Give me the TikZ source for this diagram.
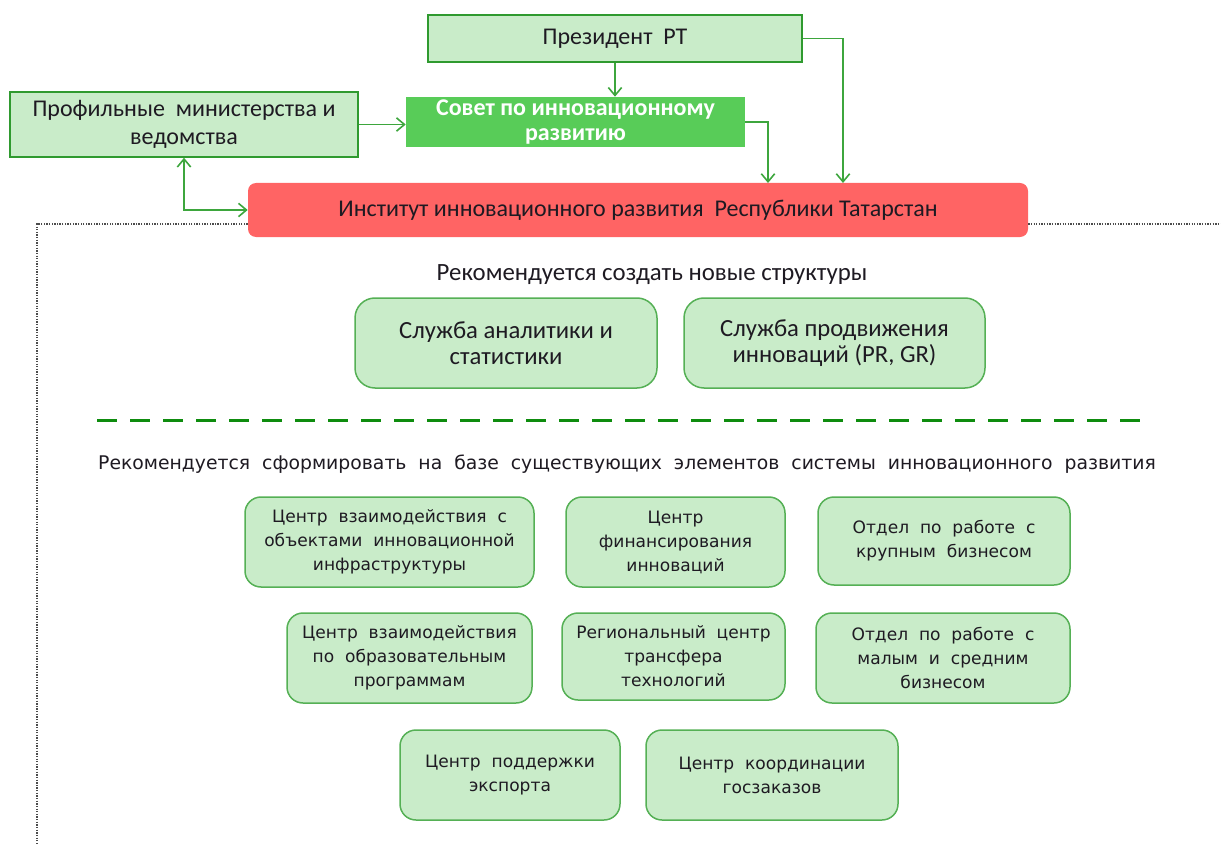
\documentclass[tikz,border=0pt]{standalone}
\usepackage{fontspec}
\setmainfont{Carlito}
\newfontfamily\tah{DejaVu Sans}
\usetikzlibrary{arrows.meta,calc}
\newlength\pxu
\pxu=0.75pt
\definecolor{lgreen}{HTML}{C9ECC9}
\definecolor{bgreen}{HTML}{55B055}
\definecolor{dgreen}{HTML}{2F9A2F}
\definecolor{mgreen}{HTML}{58CC58}
\definecolor{rred}{HTML}{FF6464}
\definecolor{txt}{HTML}{1E1A22}
\definecolor{agreen}{HTML}{3DA63D}
\definecolor{dashg}{HTML}{0E8C0E}
\tikzset{
  topbox/.style={draw=dgreen, line width=1.5\pxu, fill=lgreen, align=center, text=txt, font=\fontsize{18}{21}\selectfont, inner sep=0pt},
  sovetbox/.style={fill=mgreen, align=center, text=white, font=\fontsize{18}{19}\selectfont\bfseries, inner sep=0pt},
  instbox/.style={fill=rred, rounded corners=8\pxu, align=center, text=txt, font=\fontsize{18}{21}\selectfont, inner sep=0pt},
  newbox/.style={draw=bgreen, line width=1.5\pxu, fill=lgreen, rounded corners=20\pxu, align=center, text=txt, font=\fontsize{18.5}{19.5}\selectfont, inner sep=0pt},
  basebox/.style={draw=bgreen, line width=1.5\pxu, fill=lgreen, rounded corners=16\pxu, align=center, text=txt, font=\tah\fontsize{12.8}{18}\selectfont, inner sep=0pt},
  lbl/.style={text=txt, inner sep=0pt},
  arr/.style={draw=agreen, line width=1.6\pxu, -{Straight Barb[length=6pt,width=10pt]}},
  arr2/.style={draw=agreen, line width=1.6\pxu, {Straight Barb[length=6pt,width=10pt]}-{Straight Barb[length=6pt,width=10pt]}},
  frame/.style={draw=black!70, line width=1.3\pxu, densely dotted},
}
\begin{document}
\begin{tikzpicture}[x=\pxu, y=-\pxu]
\useasboundingbox (0,0) rectangle (1221,845);
% top
\node[topbox, minimum width=374\pxu, minimum height=47\pxu] (pres) at (615,38.5) {Президент~~РТ};
\node[topbox, minimum width=348\pxu, minimum height=65\pxu] (prof) at (184,124.5) {Профильные~~министерства и\\ведомства};
\node[sovetbox, minimum width=339\pxu, minimum height=50\pxu] (sovet) at (575.5,122) {Совет по инновационному\\развитию};
\node[instbox, minimum width=780\pxu, minimum height=54\pxu] (inst) at (638,210) {Институт инновационного развития~~Республики Татарстан};
% frame
\draw[frame] (inst.west |- 0,224) -- (37,224) -- (37,845);
\draw[frame] (inst.east |- 0,224) -- (1221,224);
% arrows
\coordinate (k1) at (768,183);
\coordinate (k2) at (843,183);
\draw[arr] (pres.south) -- (pres.south |- sovet.north);
\draw[arr] (prof.east) -- (prof.east -| sovet.west);
\draw[arr] (sovet.east) -| (k1);
\draw[arr] (pres.east) -| (k2);
\draw[arr2] (prof.south) |- (inst.west);
% new structures
\node[lbl, font=\fontsize{18.6}{21}\selectfont] (t1) at (652,275) {Рекомендуется создать новые структуры};
\node[newbox, minimum width=302\pxu, minimum height=90\pxu] (s1) at (506,343) {Служба аналитики и\\статистики};
\node[newbox, minimum width=301\pxu, minimum height=90\pxu] (s2) at (834.5,343) {Служба продвижения\\инноваций (PR, GR)};
\coordinate (d1) at (97,420);
\coordinate (d2) at (1150,420);
\draw[draw=dashg, line width=3\pxu, dash pattern=on 20\pxu off 13\pxu] (d1) -- (d2);
\node[lbl, font=\tah\fontsize{14.1}{16}\selectfont] (t2) at (627,464) {Рекомендуется~~сформировать~~на~~базе~~существующих~~элементов~~системы~~инновационного~~развития};
% base boxes
\node[basebox, minimum width=289\pxu, minimum height=90\pxu] (b1) at (389.5,542) {Центр~~взаимодействия~~с\\объектами~~инновационной\\инфраструктуры};
\node[basebox, minimum width=219\pxu, minimum height=90\pxu] (b2) at (675.5,542) {Центр\\финансирования\\инноваций};
\node[basebox, minimum width=252\pxu, minimum height=88\pxu] (b3) at (944,541) {Отдел~~по~~работе~~с\\крупным~~бизнесом};
\node[basebox, minimum width=245\pxu, minimum height=90\pxu] (b4) at (409.5,658) {Центр~~взаимодействия\\по~~образовательным\\программам};
\node[basebox, minimum width=223\pxu, minimum height=87\pxu] (b5) at (673.5,656.5) {Региональный~~центр\\трансфера\\технологий};
\node[basebox, minimum width=254\pxu, minimum height=90\pxu] (b6) at (943,658) {Отдел~~по~~работе~~с\\малым~~и~~средним\\бизнесом};
\node[basebox, minimum width=220\pxu, minimum height=90\pxu] (b7) at (510,775) {Центр~~поддержки\\экспорта};
\node[basebox, minimum width=252\pxu, minimum height=90\pxu] (b8) at (772,775) {Центр~~координации\\госзаказов};
\end{tikzpicture}
\end{document}
